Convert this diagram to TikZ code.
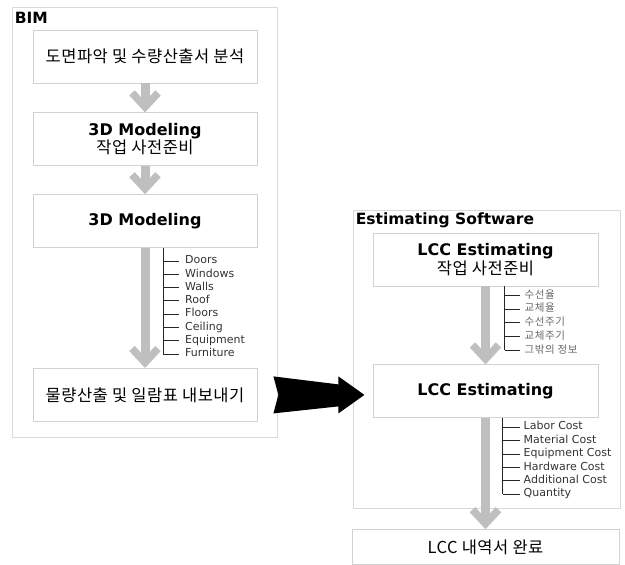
\documentclass[tikz,border=0pt]{standalone}
\usepackage{fontspec}
\setmainfont{DejaVu Sans}
\newfontfamily\kr{Noto Sans CJK KR}
\usetikzlibrary{
  arrows.meta,
  positioning,
  calc
}
\newcommand{\kor}[1]{{\kr\fontsize{16.5}{19}\selectfont\addfontfeature{LetterSpace=3}#1}}

\begin{document}
\begin{tikzpicture}[
    x=1pt, y=1pt,
    quadro/.style={
        draw=gray!30,
        line width=0.8pt,
        inner sep=0pt
    },
    etapa/.style={
        draw=gray!35,
        line width=0.8pt,
        fill=white,
        minimum width=224pt,
        minimum height=53pt,
        align=center,
        inner sep=0pt,
        font=\fontsize{16}{18.5}\selectfont
    },
    titulo/.style={
        font=\fontsize{15.5}{18}\selectfont\bfseries,
        inner sep=0pt,
        anchor=north west
    },
    item/.style={
        font=\fontsize{11}{12}\selectfont,
        text=black!80,
        inner sep=0pt,
        text height=7.5pt,
        text depth=2pt,
        anchor=west
    },
    itemkr/.style={
        item,
        font=\kr\fontsize{10.5}{11}\selectfont\addfontfeature{LetterSpace=5},
        text=black!60
    },
    ramo/.style={
        draw=black!85,
        line width=0.9pt
    },
    fluxo/.style={
        draw=gray!50,
        line width=9pt,
        -{Straight Barb[length=14pt, width=26pt, line width=7.5pt]}
    }
]

\useasboundingbox (0,0) rectangle (625,-565);

% ============================================================
% MOLDURAS
% ============================================================

\node[quadro, minimum width=265pt, minimum height=430pt] (bim) at (144.5,-222) {};
\node[quadro, minimum width=267pt, minimum height=298pt] (soft) at (486.5,-359) {};

\node[titulo] (tbim) at ($(bim.north west)+(3,-5)$) {BIM};
\node[titulo] (tsoft) at ($(soft.north west)+(3,-3)$) {Estimating Software};

% ============================================================
% ETAPAS
% ============================================================

\node[etapa] (b1) at (145,-56.5) {\kor{도면파악 및 수량산출서 분석}};
\node[etapa, below=29pt of b1] (b2) {\textbf{3D Modeling}\\\kor{작업 사전준비}};
\node[etapa, below=28pt of b2] (b3) {\textbf{3D Modeling}};
\node[etapa, below=120pt of b3] (b4) {\kor{물량산출 및 일람표 내보내기}};

\node[etapa, minimum width=225pt] (e1) at (485.5,-259.5)
    {\textbf{LCC Estimating}\\\kor{작업 사전준비}};
\node[etapa, minimum width=225pt, below=78pt of e1] (e2)
    {\textbf{LCC Estimating}};
\node[etapa, minimum width=267pt, minimum height=35pt, below=111pt of e2] (e3)
    {\kor{LCC 내역서 완료}};

% ============================================================
% SETAS
% ============================================================

\draw[fluxo] (b1) -- (b2);
\draw[fluxo] (b2) -- (b3);
\draw[fluxo] (b3) -- (b4);
\draw[fluxo] (e1) -- (e2);
\draw[fluxo] (e2) -- (e3);

% ============================================================
% ITENS
% ============================================================

\coordinate (r1) at ($(b3.south)+(18,0)$);
\node[item] (doors) at ($(r1)+(22,-13)$) {Doors};
\node[item] (windows) at ($(doors.west)+(0,-13.3)$) {Windows};
\node[item] (walls) at ($(windows.west)+(0,-13.3)$) {Walls};
\node[item] (roof) at ($(walls.west)+(0,-13.3)$) {Roof};
\node[item] (floors) at ($(roof.west)+(0,-13.3)$) {Floors};
\node[item] (ceiling) at ($(floors.west)+(0,-13.3)$) {Ceiling};
\node[item] (equip) at ($(ceiling.west)+(0,-13.3)$) {Equipment};
\node[item] (furn) at ($(equip.west)+(0,-13.3)$) {Furniture};

\draw[ramo] (r1) -- (r1 |- furn.west);
\foreach \n in {doors,windows,walls,roof,floors,ceiling,equip,furn}
    \draw[ramo] (r1 |- \n.west) -- ++(16,0);

\coordinate (r2) at ($(e1.south)+(19,0)$);
\node[itemkr] (sre) at ($(r2)+(20,-9)$) {수선율};
\node[itemkr] (tre) at ($(sre.west)+(0,-13.75)$) {교체율};
\node[itemkr] (sci) at ($(tre.west)+(0,-13.75)$) {수선주기};
\node[itemkr] (tci) at ($(sci.west)+(0,-13.75)$) {교체주기};
\node[itemkr] (etc) at ($(tci.west)+(0,-13.75)$) {그밖의 정보};

\draw[ramo] (r2) -- (r2 |- etc.west);
\foreach \n in {sre,tre,sci,tci,etc}
    \draw[ramo] (r2 |- \n.west) -- ++(15,0);

\coordinate (r3) at ($(e2.south)+(17,0)$);
\node[item] (labor) at ($(r3)+(21,-9)$) {Labor Cost};
\node[item] (mat) at ($(labor.west)+(0,-13.4)$) {Material Cost};
\node[item] (eqc) at ($(mat.west)+(0,-13.4)$) {Equipment Cost};
\node[item] (hard) at ($(eqc.west)+(0,-13.4)$) {Hardware Cost};
\node[item] (add) at ($(hard.west)+(0,-13.4)$) {Additional Cost};
\node[item] (qty) at ($(add.west)+(0,-13.4)$) {Quantity};

\draw[ramo] (r3) -- (r3 |- qty.west);
\foreach \n in {labor,mat,eqc,hard,add,qty}
    \draw[ramo] (r3 |- \n.west) -- ++(17,0);

% ============================================================
% SETA BIM -> SOFTWARE
% ============================================================

\fill[black, shift={($(bim.east |- b4.east)+(-4,0)$)}]
    (5,0) -- (0,18.5) -- (65,10.5) -- (65,18.5) -- (91,0)
    -- (65,-18.5) -- (65,-11.5) -- (0,-18.5) -- cycle;

\end{tikzpicture}
\end{document}
